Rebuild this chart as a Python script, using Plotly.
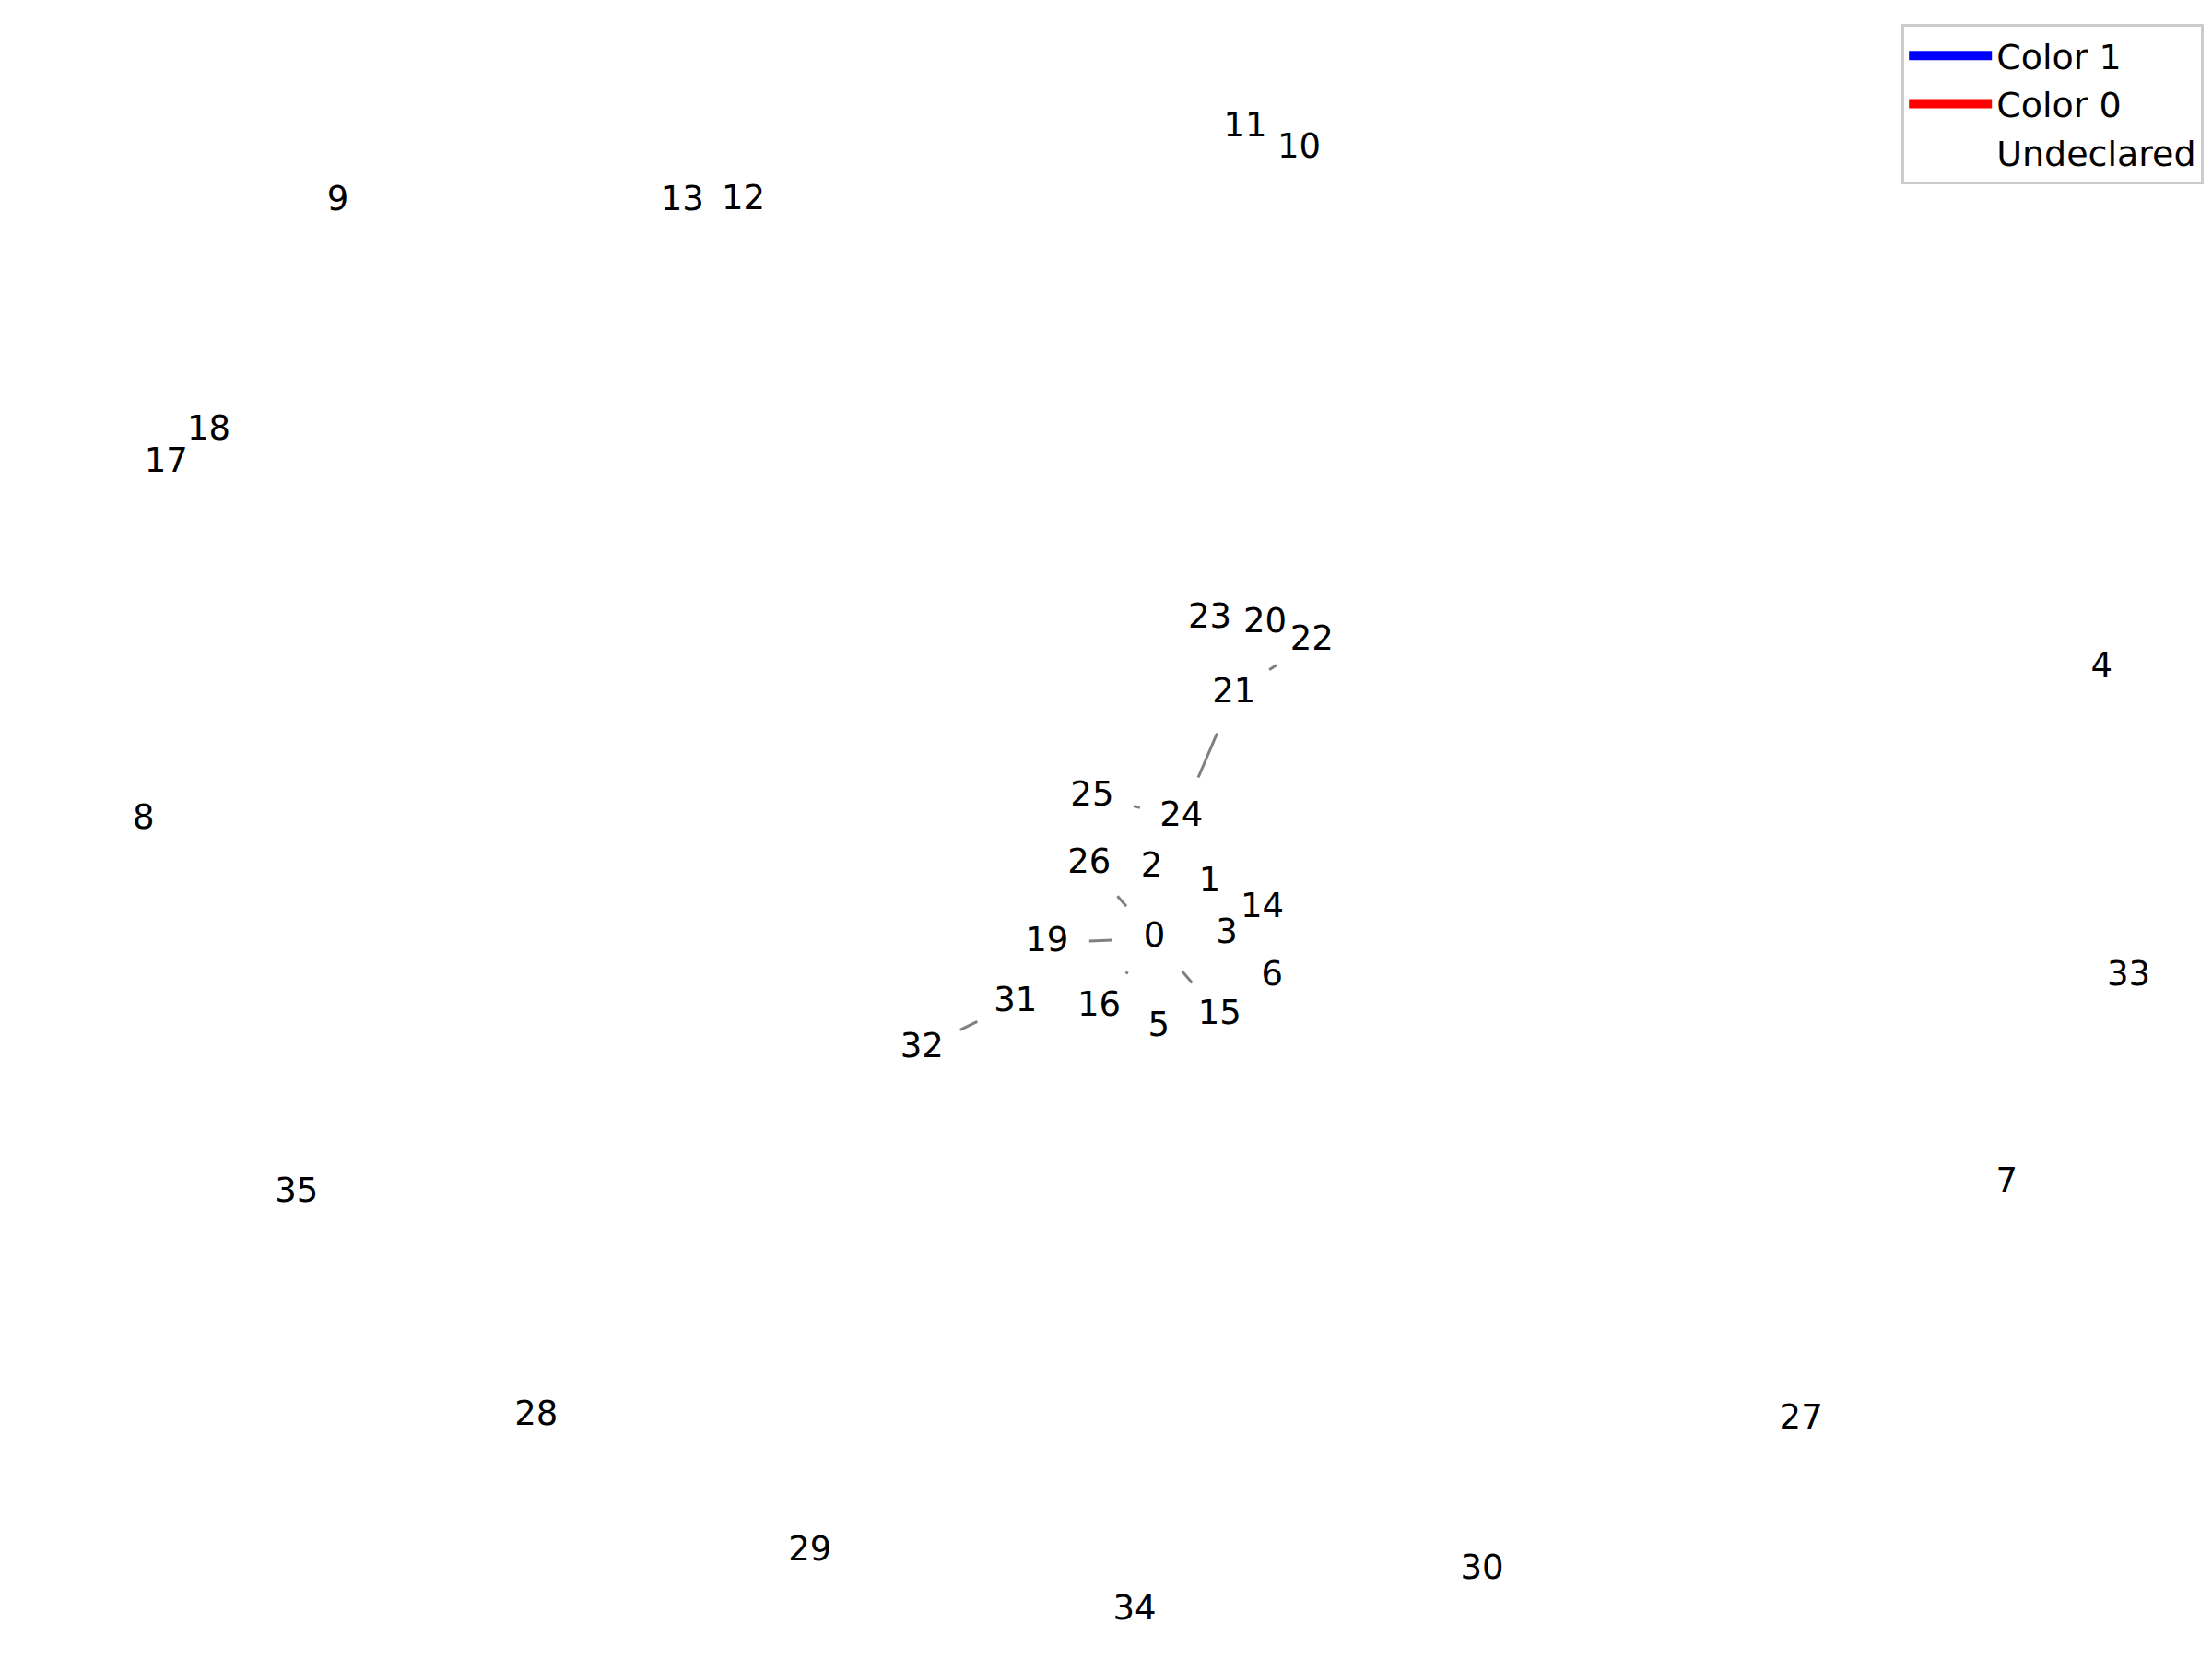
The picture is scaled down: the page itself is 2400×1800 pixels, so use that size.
import plotly.graph_objects as go
import numpy as np

# node label positions (pixel-ish coords, y downwards)
node_ids = list(range(36))
node_x = [809, 848, 807, 860, 1477, 812, 892, 1410, 96, 233, 911, 873, 519, 476, 885, 855,
          770, 112, 142, 733, 887, 865, 920, 848, 828, 765, 763, 1265, 373, 566, 1040, 711,
          645, 1496, 795, 204]
node_y = [651, 612, 602, 648, 462, 713, 678, 822, 568, 136, 99, 84, 135, 136, 630, 705,
          699, 319, 296, 654, 431, 480, 443, 428, 566, 552, 599, 988, 985, 1080, 1093, 696,
          728, 678, 1121, 829]

edges = [(21, 24), (22, 21), (25, 24), (26, 0), (19, 0), (16, 0), (0, 15), (31, 32)]

legend_names = ["Color 1", "Color 0", "Undeclared"]
legend_colors = ["#0000ff", "#ff0000", "#ffffff"]

W, H = 1560, 1160
shrink = 30

fig = go.Figure()

# edges, shortened at both ends like the original
ex, ey = [], []
for a, b in edges:
    p = np.array([node_x[a], node_y[a]], float)
    q = np.array([node_x[b], node_y[b]], float)
    d = q - p
    L = np.hypot(*d)
    if L <= 2 * shrink:
        continue
    u = d / L
    s, e = p + u * shrink, q - u * shrink
    ex += [s[0], e[0], None]
    ey += [H - s[1], H - e[1], None]
fig.add_trace(go.Scatter(x=ex, y=ey, mode="lines", line=dict(color="gray", width=3),
                         showlegend=False, hoverinfo="skip"))

fig.add_trace(go.Scatter(x=node_x, y=[H - v for v in node_y], mode="text",
                         text=[str(i) for i in node_ids],
                         textfont=dict(family="DejaVu Sans", size=37, color="black"),
                         showlegend=False))

# legend entries as thick line swatches
for name, col in zip(legend_names, legend_colors):
    fig.add_trace(go.Scatter(x=[None], y=[None], name=name, mode="lines",
                             line=dict(color=col, width=30)))

fig.update_layout(
    width=2400, height=1800, margin=dict(l=0, r=0, t=0, b=0),
    plot_bgcolor="white", paper_bgcolor="white",
    xaxis=dict(range=[0, W], visible=False),
    yaxis=dict(range=[0, H], visible=False),
    legend=dict(x=0.993, y=0.99, xanchor="right", yanchor="top",
                bordercolor="#cccccc", borderwidth=3, bgcolor="white",
                itemwidth=90, tracegroupgap=8,
                font=dict(family="DejaVu Sans", size=38, color="black")),
)

fig.write_html("out.html")
